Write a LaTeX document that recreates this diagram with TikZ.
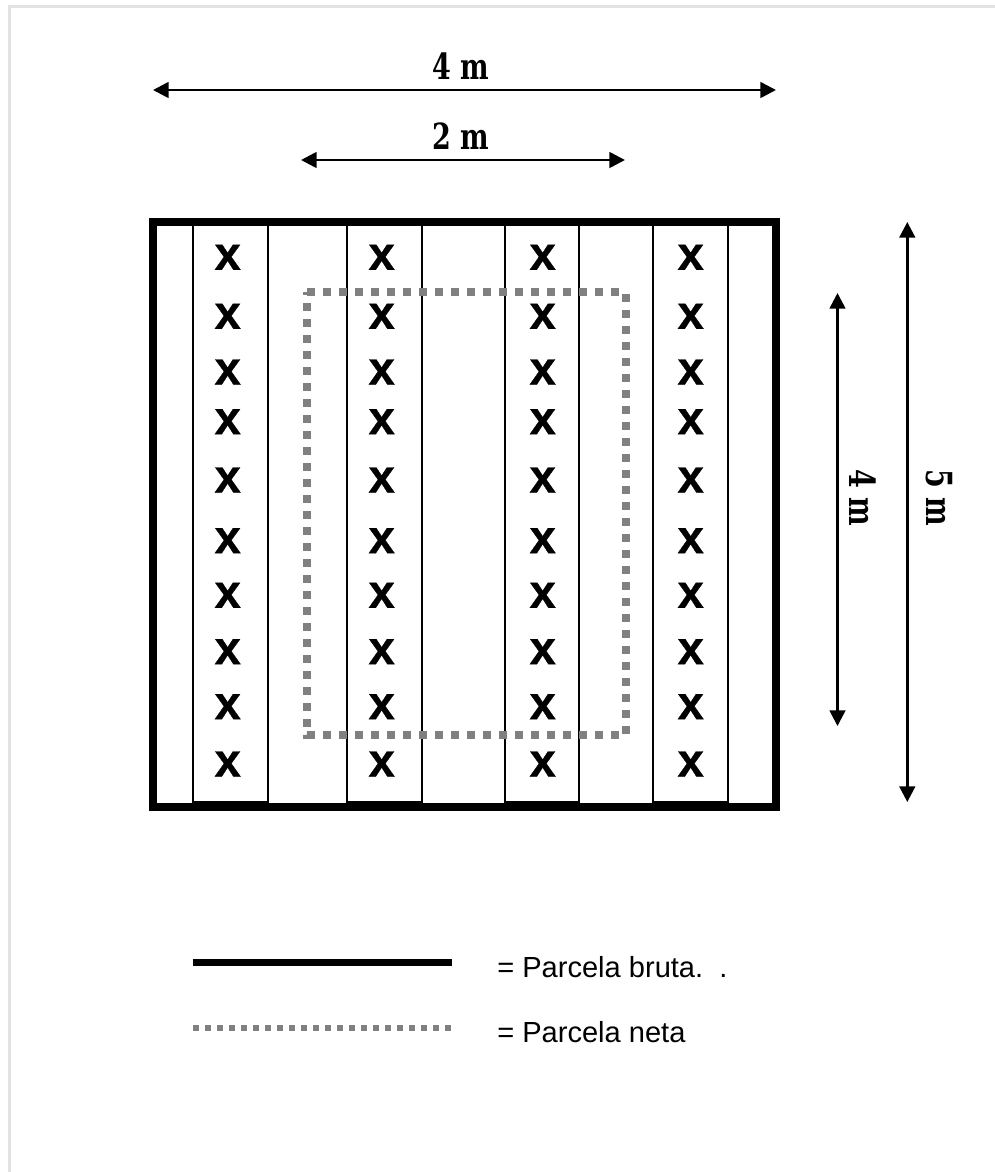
\documentclass[tikz,border=0pt]{standalone}
\usepackage{fontspec}
\setmainfont{Liberation Sans}
\newfontfamily\slabfont[FakeStretch=0.75]{DejaVu Serif}
\newfontfamily\plantafont[FakeBold=0.6]{Liberation Sans Bold}
\usepackage{tikz}
\usetikzlibrary{arrows.meta,positioning,calc}
\definecolor{pagegrey}{RGB}{226,226,226}
\definecolor{netagrey}{RGB}{128,128,128}
\tikzset{
  surco/.style={draw=black, line width=1.5pt, fill=white},
  bruta/.style={draw=black, line width=6pt},
  neta/.style={draw=netagrey, line width=6pt, dash pattern=on 6pt off 6pt},
  netaleg/.style={draw=netagrey, line width=4.5pt, dash pattern=on 4.5pt off 4.5pt},
  brutaleg/.style={draw=black, line width=5pt},
  cota/.style={{Triangle[length=11.7pt,width=11.7pt]}-{Triangle[length=11.7pt,width=11.7pt]}, draw=black, line width=2pt},
  planta/.style={font=\plantafont\fontsize{35.5}{36}\selectfont, inner sep=0pt},
  medida/.style={font=\slabfont\fontsize{27}{27}\selectfont\bfseries, inner sep=0pt},
  leyenda/.style={font=\fontsize{21.8}{22}\selectfont, inner sep=0pt, anchor=base west}
}
\begin{document}
\begin{tikzpicture}[x=0.75pt, y=-0.75pt]
  \useasboundingbox (0,0) rectangle (995,1172);
  \draw[draw=pagegrey, line width=2pt] (9.5,1172) -- (9.5,6.5) -- (995,6.5);
  % surcos
  \foreach \xa/\xb in {193/267.5, 347/422, 505/579, 653/728}
    \draw[surco] (\xa,221.5) rectangle (\xb,802);
  % parcela bruta
  \draw[bruta] (152.5,221.5) rectangle (776,807);
  % plantas
  \foreach \col/\px in {a/227.7, b/381.7, c/542.7, d/690.7}
    \foreach \fila/\py in {1/257.3, 2/316.3, 3/372, 4/421.7, 5/480, 6/540.7, 7/595.3, 8/651.7, 9/706.7, 10/764}
      \node[planta] (p\col\fila) at (\px,\py) {x};
  % parcela neta
  \draw[neta] (307.3,292.3) -- (625.7,292.3) -- (625.7,735) -- (307.3,735) -- cycle;
  % cotas
  \coordinate (ca) at (153,90);
  \coordinate (cb) at (776,90);
  \coordinate (cc) at (301,160);
  \coordinate (cd) at (625,160);
  \coordinate (ce) at (837.5,293);
  \coordinate (cf) at (837.5,726);
  \coordinate (cg) at (907.3,222);
  \coordinate (ch) at (907.3,802);
  \draw[cota] (ca) -- (cb);
  \draw[cota] (cc) -- (cd);
  \draw[cota] (ce) -- (cf);
  \draw[cota] (cg) -- (ch);
  \node[medida] (m4) at (461,66.5) {4 m};
  \node[medida] (m2) at (461,136.5) {2 m};
  \node[medida, rotate=-90] (v4) at (863,498) {4 m};
  \node[medida, rotate=-90] (v5) at (939.5,498) {5 m};
  % leyenda
  \coordinate (la) at (193,962.7);
  \coordinate (lb) at (452,962.7);
  \coordinate (lc) at (193,1028);
  \coordinate (ld) at (452,1028);
  \draw[brutaleg] (la) -- (lb);
  \draw[netaleg] (lc) -- (ld);
  \node[leyenda] (tb) at (497,977) {= Parcela bruta.~~.};
  \node[leyenda] (tn) at (497,1042.5) {= Parcela neta};
\end{tikzpicture}
\end{document}
